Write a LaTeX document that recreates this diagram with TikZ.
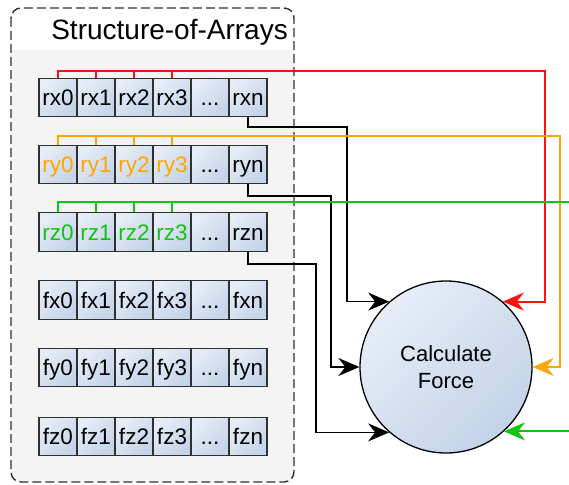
\documentclass[tikz,border=0pt]{standalone}
\usepackage{fontspec}
\setmainfont{Liberation Sans}
\usetikzlibrary{arrows.meta}
\definecolor{cellA}{HTML}{E6EDF7}
\definecolor{cellB}{HTML}{C4D4E9}
\definecolor{circA}{HTML}{E6EDF7}
\definecolor{circB}{HTML}{C3D3E8}
\definecolor{boxbg}{HTML}{F4F4F4}
\definecolor{cred}{HTML}{FF1010}
\definecolor{corange}{HTML}{FFA500}
\definecolor{cgreen}{HTML}{11C411}
\definecolor{edge}{HTML}{303030}
\tikzset{
  cell/.style={draw=edge, line width=1.1pt, minimum width=38pt, minimum height=38.5pt,
    inner sep=0pt, top color=cellA, bottom color=cellB, shading angle=45,
    text height=16pt, text depth=0pt,
    font=\fontsize{22.5}{24}\selectfont},
  bus/.style={line width=2pt},
  blk/.style={line width=1.4pt, black},
  arr/.style={-{Stealth[length=21pt,width=18pt,inset=7pt]}},
}
\begin{document}
\begin{tikzpicture}[x=1pt,y=-1pt]
\useasboundingbox (0,0) rectangle (569,484);
% container
\begin{scope}
\clip[rounded corners=10pt] (11,8) rectangle (294,482);
\fill[boxbg] (11,8) rectangle (294,482);
\fill[white] (11,8) rectangle (294,50);
\end{scope}
\draw[dashed, line width=1.4pt, dash pattern=on 9pt off 4pt, edge, rounded corners=10pt] (11,8) rectangle (294,482);
\node[anchor=base east, font=\fontsize{28}{30}\selectfont, inner sep=0pt] (title) at (288,40) {Structure-of-Arrays};
% cells
\foreach \r/\y/\c in {rx/97.5/black, ry/164.5/corange, rz/232/cgreen, fx/300/black, fy/367.5/black, fz/436.5/black}{
  \foreach \i/\x in {0/58, 1/96, 2/134, 3/172}{
    \node[cell, text=\c] (\r\i) at (\x,\y) {\r\i};
  }
  \node[cell] (\r d) at (210,\y) {.\kern0pt.\kern0pt.};
  \node[cell] (\r n) at (248,\y) {\r n};
}
% circle
\node[circle, draw=black, line width=1.3pt, minimum size=172pt, inner sep=0pt,
  top color=circA, bottom color=circB, shading angle=45, align=center,
  font=\fontsize{22}{27}\selectfont] (calc) at (446,367) {Calculate\\Force};
% coordinates
\coordinate (rturn) at (545,71);
\coordinate (oturn) at (560,136);
\coordinate (gend) at (569,202);
\coordinate (b1) at (347,127);
\coordinate (b2) at (331,196);
\coordinate (b3) at (316,264);
\coordinate (gin) at (calc.-48 -| gend);
% black connectors
\draw[blk, arr] (rxn.south) |- (b1) |- (calc.131);
\draw[blk, arr] (ryn.south) |- (b2) |- (calc.west);
\draw[blk, arr] (rzn.south) |- (b3) |- (calc.229);
% red
\draw[bus, cred, arr] (rx0.north) |- (rturn) |- (calc.49);
\foreach \i in {1,2,3}{\draw[bus, cred] (rx\i.north) -- (rx\i.north |- rturn);}
% orange
\draw[bus, corange, arr] (ry0.north) |- (oturn) |- (calc.east);
\foreach \i in {1,2,3}{\draw[bus, corange] (ry\i.north) -- (ry\i.north |- oturn);}
% green
\draw[bus, cgreen] (rz0.north) |- (gend);
\foreach \i in {1,2,3}{\draw[bus, cgreen] (rz\i.north) -- (rz\i.north |- gend);}
\draw[bus, cgreen, arr] (gin) -- (calc.-48);
\end{tikzpicture}
\end{document}
